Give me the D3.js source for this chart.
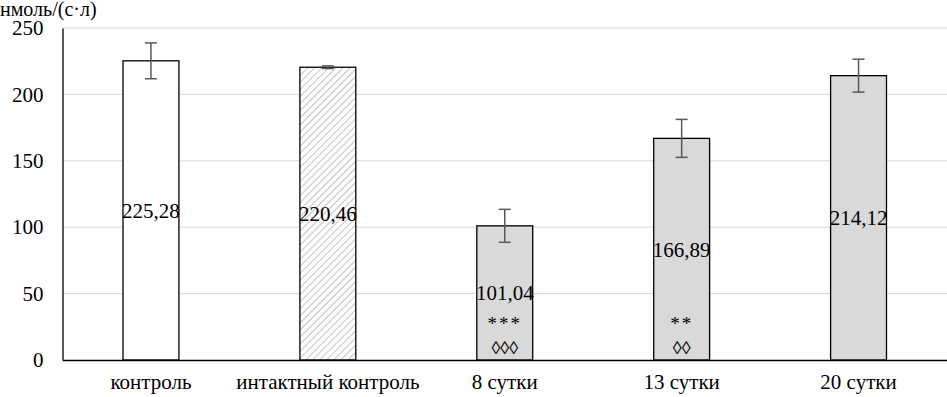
<!DOCTYPE html>
<html><head><meta charset="utf-8">
<script src="https://cdn.jsdelivr.net/npm/d3@7"></script>
<style>body{margin:0;background:#fff}svg{display:block}</style>
</head><body>
<svg id="c" width="947" height="397"></svg>
<script>
const categories = ["контроль", "интактный контроль", "8 сутки", "13 сутки", "20 сутки"];
const values = [225.28, 220.46, 101.04, 166.89, 214.12];
const errors = [13.5, 1.0, 12.4, 14.3, 12.4];
const valueLabels = ["225,28", "220,46", "101,04", "166,89", "214,12"];
const stars = ["", "", "***", "**", ""];
const diamonds = ["", "", "◊◊◊", "◊◊", ""];
const fills = ["white", "hatch", "gray", "gray", "gray"];
const yTicks = [0, 50, 100, 150, 200, 250];
const yTitle = "нмоль/(с·л)";

const FONT = "'Liberation Serif'";
const svg = d3.select("#c");
const m = {l: 62.5, r: 947, t: 28, b: 360};
const x = d3.scaleBand().domain(categories).range([m.l, m.r]).paddingInner(0.684).paddingOuter(0.342);
const y = d3.scaleLinear().domain([0, 250]).range([m.b, m.t]);

const defs = svg.append("defs");
const pat = defs.append("pattern").attr("id", "hatch").attr("patternUnits", "userSpaceOnUse")
  .attr("width", 5).attr("height", 5).attr("patternTransform", "rotate(45)");
pat.append("rect").attr("width", 5).attr("height", 5).attr("fill", "white");
pat.append("line").attr("x1", 0).attr("y1", 0).attr("x2", 0).attr("y2", 5)
  .attr("stroke", "#b3b3b3").attr("stroke-width", 1.6);

// gridlines
svg.append("g").selectAll("line").data(yTicks.filter(d => d > 0)).join("line")
  .attr("x1", m.l).attr("x2", m.r).attr("y1", d => y(d)).attr("y2", d => y(d))
  .attr("stroke", "#d9d9d9").attr("stroke-width", 1);

// y axis
const ya = svg.append("g").attr("transform", `translate(${m.l},0)`)
  .call(d3.axisLeft(y).tickValues(yTicks).tickSize(0).tickPadding(19));
ya.attr("font-family", null).attr("font-size", null);
ya.select(".domain").attr("stroke", "#000").attr("stroke-width", 1.3);
ya.selectAll("text").style("font-size", "21px").attr("fill", "#000").style("font-family", FONT);

// bars
const fillOf = f => f === "white" ? "#ffffff" : f === "hatch" ? "url(#hatch)" : "#d9d9d9";
svg.append("g").selectAll("rect").data(categories).join("rect")
  .attr("x", d => x(d)).attr("width", x.bandwidth())
  .attr("y", (d, i) => y(values[i])).attr("height", (d, i) => y(0) - y(values[i]))
  .attr("fill", (d, i) => fillOf(fills[i])).attr("stroke", "#000").attr("stroke-width", 1.3);

// x axis
const xa = svg.append("g").attr("transform", `translate(0,${m.b})`)
  .call(d3.axisBottom(x).tickSize(0).tickPadding(14));
xa.attr("font-family", null).attr("font-size", null);
xa.select(".domain").attr("stroke", "#000").attr("stroke-width", 1.5);
xa.selectAll("text").style("font-size", "21px").attr("fill", "#000").style("font-family", FONT);

// error bars
const eg = svg.append("g").attr("stroke", "#595959").attr("stroke-width", 1.5);
categories.forEach((c, i) => {
  const cx = x(c) + x.bandwidth() / 2;
  const t = y(values[i] + errors[i]), b = y(values[i] - errors[i]);
  eg.append("line").attr("x1", cx).attr("x2", cx).attr("y1", t).attr("y2", b);
  eg.append("line").attr("x1", cx - 6).attr("x2", cx + 6).attr("y1", t).attr("y2", t);
  eg.append("line").attr("x1", cx - 6).attr("x2", cx + 6).attr("y1", b).attr("y2", b);
});

// value labels
svg.append("g").selectAll("text").data(categories).join("text")
  .attr("x", d => x(d) + x.bandwidth() / 2).attr("y", (d, i) => y(values[i] / 2))
  .attr("dy", "0.35em").attr("text-anchor", "middle").style("font-size", "21px").style("font-family", FONT).attr("fill", "#000")
  .text((d, i) => valueLabels[i]);

// significance marks
svg.append("g").selectAll("text").data(categories).join("text")
  .attr("x", d => x(d) + x.bandwidth() / 2).attr("y", m.b - 30)
  .attr("text-anchor", "middle").style("font-size", "19px").style("font-family", FONT).attr("letter-spacing", 2).attr("fill", "#000")
  .text((d, i) => stars[i]);
svg.append("g").selectAll("text").data(categories).join("text")
  .attr("x", d => x(d) + x.bandwidth() / 2).attr("y", m.b - 6)
  .attr("text-anchor", "middle").style("font-size", "18px").style("font-family", FONT).attr("fill", "#000")
  .text((d, i) => diamonds[i]);

// y title
svg.append("text").attr("x", 0).attr("y", 16).style("font-size", "20px").style("font-family", FONT).attr("fill", "#000").text(yTitle);
</script>
</body></html>
